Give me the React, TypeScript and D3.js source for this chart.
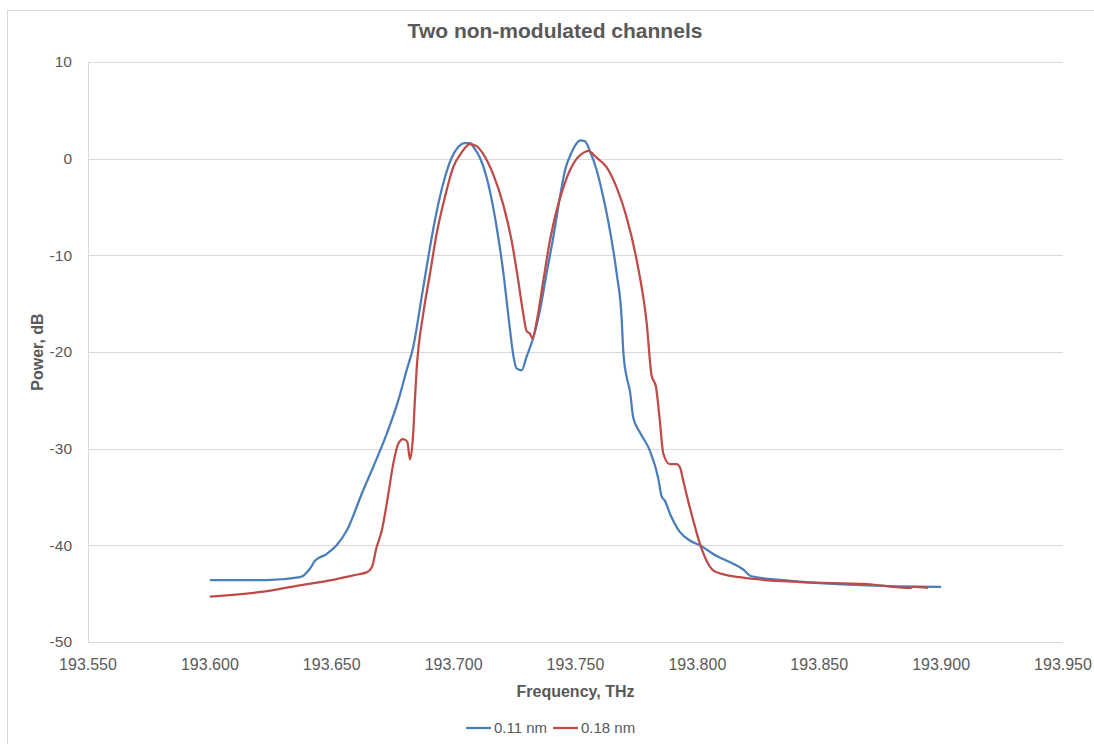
import React, { useEffect, useRef } from 'react';
import * as d3 from 'd3';

// Frequency (THz) and power (dB)
const blueFreq = [
  193.6, 193.6233, 193.637, 193.6411, 193.6431, 193.6479, 193.652, 193.6561, 193.6629, 193.667,
  193.6725, 193.6773, 193.6807, 193.6834, 193.6869, 193.6896, 193.6923, 193.6957, 193.6992, 193.7019,
  193.7046, 193.7067, 193.7087, 193.7108, 193.7135, 193.7162, 193.7183, 193.7203, 193.7224, 193.7244,
  193.7258, 193.7279, 193.7299, 193.7327, 193.7354, 193.7381, 193.7409, 193.7436, 193.7457, 193.7484,
  193.7505, 193.7518, 193.7539, 193.7559, 193.7587, 193.7614, 193.7641, 193.7669, 193.7689, 193.7696,
  193.771, 193.7723, 193.7737, 193.7764, 193.7805, 193.7839, 193.7853, 193.7867, 193.7887, 193.7928,
  193.7969, 193.801, 193.8079, 193.8147, 193.8188, 193.8222, 193.8352, 193.8557, 193.8762, 193.9,
];
const bluePower = [
  -43.6, -43.6, -43.3, -42.4, -41.6, -40.9, -40.0, -38.5, -34.3, -31.9,
  -28.5, -25.0, -21.9, -19.5, -14.3, -10.2, -6.4, -2.6, 0.1, 1.2,
  1.6, 1.6, 1.0, 0.1, -1.9, -5.0, -8.1, -11.6, -16.1, -20.2,
  -21.7, -21.9, -20.5, -18.5, -15.7, -11.9, -8.1, -4.0, -1.2, 0.65,
  1.6, 1.9, 1.8, 0.8, -1.2, -4.0, -7.4, -11.9, -16.4, -19.9,
  -22.6, -24.0, -26.8, -28.3, -30.2, -33.0, -34.9, -35.4, -36.7, -38.6,
  -39.5, -40.0, -41.1, -41.9, -42.5, -43.2, -43.6, -44.0, -44.2, -44.3,
];

const redFreq = [
  193.6, 193.6219, 193.6356, 193.6452, 193.652, 193.6588, 193.6643, 193.6664, 193.6684, 193.6705,
  193.6732, 193.6752, 193.6773, 193.6793, 193.681, 193.6821, 193.6834, 193.6841, 193.6848, 193.6875,
  193.6903, 193.693, 193.6964, 193.6998, 193.7033, 193.7067, 193.7094, 193.7121, 193.7162, 193.7203,
  193.7238, 193.7265, 193.7286, 193.7299, 193.7313, 193.7324, 193.7341, 193.7368, 193.7395, 193.7422,
  193.745, 193.7477, 193.7505, 193.7532, 193.7552, 193.7587, 193.7628, 193.7669, 193.771, 193.7751,
  193.7792, 193.7812, 193.783, 193.7846, 193.786, 193.7887, 193.7915, 193.7928, 193.7942, 193.7962,
  193.7983, 193.801, 193.8044, 193.8072, 193.8174, 193.842, 193.8694, 193.8872, 193.8885, 193.8947,
];
const redPower = [
  -45.3, -44.8, -44.2, -43.8, -43.5, -43.1, -42.8, -42.3, -40.2, -38.5,
  -34.7, -31.6, -29.5, -29.0, -29.3, -31.1, -28.5, -25.0, -21.9, -16.1,
  -11.9, -7.8, -4.0, -0.9, 0.65, 1.5, 1.3, 0.5, -1.6, -4.7,
  -8.5, -12.6, -16.1, -17.8, -18.1, -18.6, -16.8, -12.6, -8.5, -5.4,
  -3.0, -1.2, 0.0, 0.6, 0.8, 0.1, -0.9, -3.0, -6.1, -10.5,
  -17.0, -22.4, -23.6, -27.1, -30.5, -31.6, -31.6, -31.9, -33.3, -35.4,
  -37.4, -39.8, -41.9, -42.7, -43.3, -43.8, -44.0, -44.4, -44.3, -44.4,
];

const xTicks = [193.55, 193.6, 193.65, 193.7, 193.75, 193.8, 193.85, 193.9, 193.95];
const yTicks = [-50, -40, -30, -20, -10, 0, 10];
const seriesNames = ['0.11 nm', '0.18 nm'];
const colors = ['#4a7ebb', '#be4b48'];

const font = '"Liberation Sans", Arial, sans-serif';
const textColor = '#595959';

const App = () => {
  const ref = useRef(null);

  useEffect(() => {
    const width = 1094;
    const height = 744;
    const margin = { top: 62, right: 31, bottom: 102, left: 88 };

    const svg = d3.select(ref.current)
      .attr('width', width)
      .attr('height', height);

    svg.selectAll('*').remove();

    svg.append('rect')
      .attr('width', width).attr('height', height).attr('fill', '#fff');

    // chart area border
    svg.append('rect')
      .attr('x', 7.5).attr('y', 10.5)
      .attr('width', width + 20).attr('height', height + 20)
      .attr('fill', 'none').attr('stroke', '#d9d9d9');

    const x = d3.scaleLinear()
      .domain([193.55, 193.95])
      .range([margin.left, width - margin.right]);

    const y = d3.scaleLinear()
      .domain([-50, 10])
      .range([height - margin.bottom, margin.top]);

    // gridlines
    svg.append('g')
      .selectAll('line')
      .data(yTicks)
      .enter().append('line')
      .attr('x1', x.range()[0]).attr('x2', x.range()[1])
      .attr('y1', d => Math.round(y(d)) + 0.5).attr('y2', d => Math.round(y(d)) + 0.5)
      .attr('stroke', '#d9d9d9').attr('stroke-width', 1);

    svg.append('line')
      .attr('x1', margin.left + 0.5).attr('x2', margin.left + 0.5)
      .attr('y1', y(10)).attr('y2', y(-50))
      .attr('stroke', '#d9d9d9');

    // y tick labels
    svg.append('g')
      .selectAll('text')
      .data(yTicks)
      .enter().append('text')
      .attr('x', 72)
      .attr('y', d => y(d))
      .attr('dy', '0.35em')
      .attr('text-anchor', 'end')
      .attr('font-family', font).attr('font-size', 15.5).attr('fill', textColor)
      .text(d => d);

    // x tick labels
    svg.append('g')
      .selectAll('text')
      .data(xTicks)
      .enter().append('text')
      .attr('x', d => x(d))
      .attr('y', 670)
      .attr('text-anchor', 'middle')
      .attr('font-family', font).attr('font-size', 16).attr('fill', textColor)
      .text(d => d3.format('.3f')(d));

    const line = d3.line<[number, number]>()
      .x(d => x(d[0]))
      .y(d => y(d[1]))
      .curve(d3.curveMonotoneX);

    const blue = blueFreq.map((f, i) => [f, bluePower[i]] as [number, number]);
    const red = redFreq.map((f, i) => [f, redPower[i]] as [number, number]);

    [blue, red].forEach((data, i) => {
      svg.append('path')
        .datum(data)
        .attr('fill', 'none')
        .attr('stroke', colors[i])
        .attr('stroke-width', 2.25)
        .attr('stroke-linejoin', 'round')
        .attr('d', line);
    });

    // titles
    svg.append('text')
      .attr('x', 555).attr('y', 38)
      .attr('text-anchor', 'middle')
      .attr('font-family', font).attr('font-size', 21).attr('font-weight', 'bold')
      .attr('fill', textColor)
      .text('Two non-modulated channels');

    svg.append('text')
      .attr('x', (x.range()[0] + x.range()[1]) / 2).attr('y', 697)
      .attr('text-anchor', 'middle')
      .attr('font-family', font).attr('font-size', 16).attr('font-weight', 'bold')
      .attr('fill', textColor)
      .text('Frequency, THz');

    svg.append('text')
      .attr('transform', `translate(43,${(y(10) + y(-50)) / 2}) rotate(-90)`)
      .attr('text-anchor', 'middle')
      .attr('font-family', font).attr('font-size', 16).attr('font-weight', 'bold')
      .attr('fill', textColor)
      .text('Power, dB');

    // legend
    const legend = svg.append('g').attr('transform', 'translate(466,728)');
    seriesNames.forEach((name, i) => {
      const g = legend.append('g').attr('transform', `translate(${i * 87},0)`);
      g.append('line')
        .attr('x1', 0).attr('x2', 25).attr('y1', 0).attr('y2', 0)
        .attr('stroke', colors[i]).attr('stroke-width', 2.25);
      g.append('text')
        .attr('x', 28).attr('y', 0).attr('dy', '0.35em')
        .attr('font-family', font).attr('font-size', 15).attr('fill', textColor)
        .text(name);
    });
  }, []);

  return <svg ref={ref} style={{ position: 'absolute', left: 0, top: 0, display: 'block' }}></svg>;
};

export default App;
